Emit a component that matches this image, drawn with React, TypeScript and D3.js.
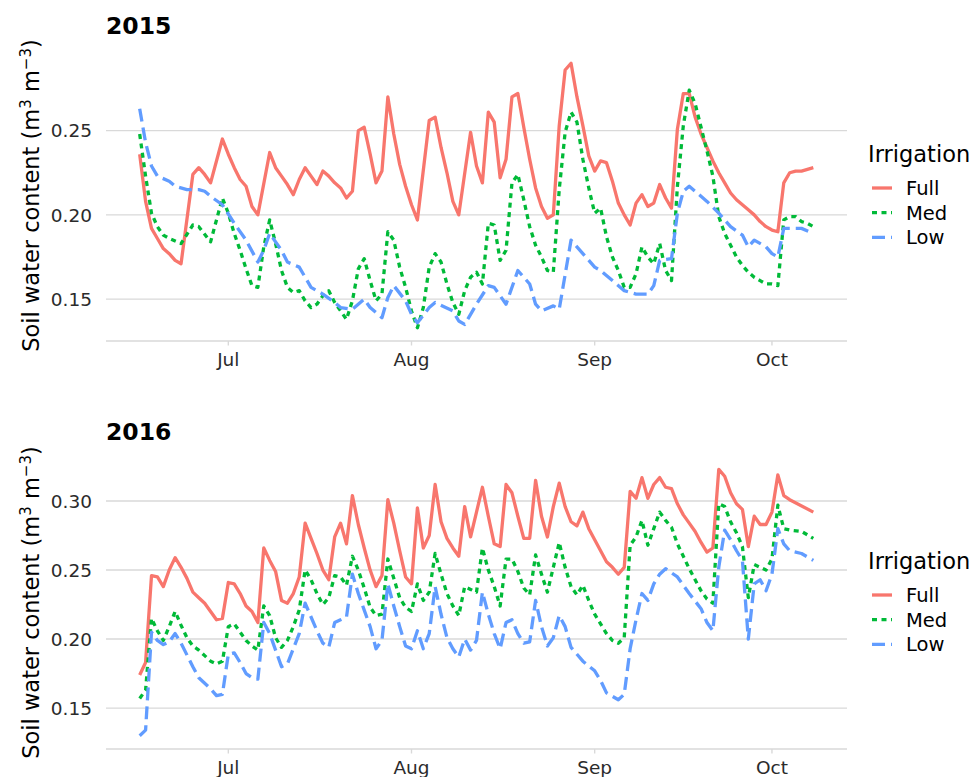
import * as d3 from 'd3';
import React, { Component } from 'react';

// [days after 16 June, soil water content]
type Point = [number, number];

const treatments = ['Full', 'Med', 'Low'];
const colours = ['#f8766d', '#00ba38', '#619cff'];
const dashes = [undefined, '5 4.5', '13 6'];

const full2015: Point[] = [
    [0, .236], [1, .208], [2, .192], [3, .186], [4, .180], [5, .177], [6, .173], [7, .171], [9, .224], [10, .228],
    [11, .224], [12, .219], [14, .245], [15, .236], [16, .228], [17, .221], [18, .217], [19, .205], [20, .200],
    [22, .237], [23, .228], [24, .223], [25, .218], [26, .212], [27, .221], [28, .228], [29, .223], [30, .218],
    [31, .226], [32, .223], [33, .219], [34, .216], [35, .210], [36, .214], [37, .250], [38, .252], [39, .236],
    [40, .219], [41, .226], [42, .270], [43, .248], [44, .230], [45, .217], [46, .206], [47, .197], [49, .256],
    [50, .258], [51, .240], [52, .225], [53, .208], [54, .200], [56, .249], [57, .229], [58, .219], [59, .261],
    [60, .255], [61, .222], [62, .233], [63, .270], [64, .272], [65, .252], [66, .233], [67, .216], [68, .205],
    [69, .198], [70, .200], [71, .253], [72, .286], [73, .290], [74, .270], [75, .253], [76, .235], [77, .226],
    [78, .232], [79, .231], [80, .220], [81, .207], [82, .200], [83, .194], [84, .207], [85, .212], [86, .205],
    [87, .207], [88, .218], [89, .210], [90, .204], [91, .251], [92, .272], [93, .272], [94, .258], [95, .248],
    [96, .240], [97, .232], [98, .225], [99, .219], [100, .213], [101, .209], [102, .206], [103, .203], [104, .200],
    [105, .196], [106, .193], [107, .191], [108, .190], [109, .219], [110, .225], [111, .226], [112, .226],
    [113, .227], [114, .228],
];
const med2015: Point[] = [
    [0, .248], [1, .223], [2, .201], [3, .193], [4, .188], [5, .186], [7, .183], [9, .194], [10, .193], [12, .184],
    [14, .210], [15, .201], [16, .189], [17, .179], [18, .168], [19, .158], [20, .157], [21, .181], [22, .197],
    [23, .183], [24, .167], [25, .157], [26, .154], [27, .155], [28, .149], [29, .145], [30, .147], [31, .152],
    [32, .155], [33, .148], [34, .143], [35, .138], [36, .149], [37, .168], [38, .174], [39, .161], [40, .149],
    [41, .153], [42, .190], [43, .185], [44, .169], [45, .157], [46, .143], [47, .133], [48, .145], [49, .169],
    [50, .177], [51, .172], [52, .159], [53, .148], [54, .141], [55, .155], [56, .163], [57, .166], [58, .159],
    [59, .195], [60, .194], [61, .173], [62, .179], [63, .219], [64, .224], [65, .209], [66, .193], [67, .182],
    [68, .175], [69, .167], [70, .166], [71, .215], [72, .249], [73, .261], [74, .255], [75, .233], [76, .216],
    [77, .201], [78, .204], [79, .187], [80, .175], [81, .167], [82, .157], [83, .157], [84, .165], [85, .181],
    [86, .175], [87, .171], [88, .183], [89, .167], [90, .161], [91, .217], [92, .253], [93, .274], [94, .266],
    [95, .252], [96, .238], [97, .223], [98, .199], [99, .189], [100, .182], [101, .175], [102, .170], [103, .166],
    [104, .163], [105, .161], [106, .159], [107, .159], [108, .158], [109, .197], [110, .199], [111, .199],
    [112, .196], [113, .195], [114, .193],
];
const low2015: Point[] = [
    [0, .263], [1, .243], [2, .229], [3, .223], [5, .220], [6, .217], [8, .215], [10, .215], [11, .214], [12, .211],
    [14, .206], [16, .195], [18, .185], [20, .172], [21, .179], [22, .189], [24, .179], [25, .172], [27, .169],
    [28, .163], [29, .157], [31, .153], [33, .148], [34, .145], [36, .144], [38, .150], [39, .145], [41, .139],
    [42, .151], [43, .158], [45, .149], [46, .141], [47, .136], [49, .145], [50, .148], [53, .143], [54, .137],
    [55, .135], [56, .141], [57, .147], [59, .158], [60, .157], [62, .147], [64, .167], [66, .159], [67, .147],
    [68, .143], [70, .146], [71, .144], [73, .185], [75, .177], [77, .169], [78, .167], [80, .161], [82, .155],
    [84, .153], [86, .153], [87, .158], [88, .173], [90, .174], [91, .201], [92, .214], [93, .217], [94, .214],
    [96, .208], [98, .201], [100, .193], [102, .188], [103, .181], [104, .185], [106, .181], [107, .177],
    [108, .175], [109, .192], [110, .192], [112, .192], [114, .189],
];

const full2016: Point[] = [
    [0, .174], [1, .183], [2, .246], [3, .245], [4, .238], [5, .250], [6, .259], [7, .252], [8, .244], [9, .234],
    [10, .230], [11, .226], [12, .220], [13, .214], [14, .215], [15, .241], [16, .240], [17, .233], [18, .224],
    [19, .220], [20, .212], [21, .266], [22, .257], [23, .249], [24, .228], [25, .226], [26, .233], [27, .245],
    [28, .284], [29, .273], [30, .262], [31, .250], [32, .243], [33, .274], [34, .284], [35, .269], [36, .304],
    [37, .283], [38, .266], [39, .250], [40, .238], [41, .246], [42, .301], [43, .284], [44, .264], [45, .245],
    [46, .240], [47, .295], [48, .266], [49, .275], [50, .312], [51, .285], [52, .273], [53, .266], [54, .260],
    [55, .296], [56, .274], [57, .292], [58, .310], [59, .289], [60, .269], [61, .267], [62, .312], [63, .306],
    [64, .289], [65, .273], [66, .273], [67, .315], [68, .289], [69, .274], [70, .296], [71, .313], [72, .296],
    [73, .285], [74, .282], [75, .292], [76, .280], [77, .272], [78, .264], [79, .256], [80, .252], [81, .247],
    [82, .252], [83, .307], [84, .302], [85, .317], [86, .302], [87, .312], [88, .317], [89, .310], [90, .309],
    [91, .298], [92, .290], [93, .284], [94, .278], [95, .270], [96, .263], [97, .266], [98, .323], [99, .318],
    [100, .306], [101, .298], [102, .294], [103, .267], [104, .289], [105, .283], [106, .283], [107, .292],
    [108, .319], [109, .304], [110, .301], [114, .292],
];
const med2016: Point[] = [
    [0, .157], [1, .163], [2, .215], [3, .206], [4, .199], [5, .209], [6, .220], [7, .210], [8, .201], [9, .195],
    [10, .192], [11, .188], [12, .184], [13, .182], [14, .184], [15, .209], [16, .211], [17, .205], [18, .199],
    [19, .195], [20, .192], [21, .224], [22, .217], [23, .201], [24, .194], [25, .199], [26, .209], [27, .221],
    [28, .250], [29, .243], [30, .233], [31, .225], [32, .230], [33, .246], [34, .245], [35, .239], [36, .260],
    [37, .250], [38, .237], [39, .223], [40, .217], [41, .218], [42, .258], [43, .244], [44, .230], [45, .223],
    [46, .220], [47, .240], [48, .228], [49, .234], [50, .262], [51, .247], [52, .233], [53, .224], [54, .217],
    [55, .238], [56, .236], [57, .234], [58, .266], [59, .250], [60, .238], [61, .224], [62, .258], [63, .258],
    [64, .249], [65, .237], [66, .232], [67, .261], [68, .247], [69, .234], [70, .252], [71, .270], [72, .252],
    [73, .238], [74, .232], [75, .239], [76, .228], [77, .218], [78, .211], [79, .204], [80, .199], [81, .197],
    [82, .201], [83, .268], [84, .274], [85, .286], [86, .268], [87, .280], [88, .292], [89, .286], [90, .281],
    [91, .269], [92, .260], [93, .251], [94, .243], [95, .235], [96, .229], [97, .226], [98, .298], [99, .296],
    [100, .285], [101, .277], [102, .267], [103, .230], [104, .254], [105, .252], [106, .250], [107, .258],
    [108, .297], [109, .280], [110, .279], [112, .278], [114, .273],
];
const low2016: Point[] = [
    [0, .130], [1, .134], [2, .205], [3, .199], [4, .196], [5, .198], [6, .204], [7, .197], [9, .180], [10, .172],
    [12, .164], [13, .159], [14, .160], [15, .189], [16, .190], [17, .183], [18, .175], [19, .172], [20, .171],
    [21, .212], [22, .204], [23, .192], [24, .180], [25, .182], [26, .193], [27, .204], [28, .226], [29, .216],
    [30, .206], [31, .197], [32, .194], [33, .212], [34, .214], [35, .216], [36, .247], [37, .233], [38, .221],
    [39, .209], [40, .193], [41, .199], [42, .240], [43, .224], [44, .209], [45, .195], [46, .193], [47, .206],
    [48, .193], [49, .204], [50, .238], [51, .218], [52, .201], [53, .193], [54, .187], [55, .200], [56, .192],
    [57, .199], [58, .234], [59, .218], [60, .204], [61, .193], [62, .212], [63, .214], [64, .204], [65, .197],
    [66, .198], [67, .228], [68, .209], [69, .195], [70, .201], [71, .217], [72, .209], [73, .194], [75, .184],
    [77, .177], [78, .170], [79, .161], [81, .156], [82, .160], [83, .193], [84, .214], [85, .233], [86, .228],
    [87, .240], [88, .247], [89, .251], [91, .245], [92, .239], [93, .233], [95, .222], [96, .212], [97, .206],
    [98, .252], [99, .279], [100, .272], [101, .264], [102, .257], [103, .200], [104, .240], [105, .243],
    [106, .235], [107, .247], [108, .280], [109, .269], [110, .264], [112, .262], [114, .257],
];

const font = 'DejaVu Sans';
const gridColour = '#d9d9d9';

interface IPanelProps {
    year: number;
    series: Point[][];
    top: number;
    bottom: number;
}

class Panel extends Component<IPanelProps> {
    public render() {
        const { year, series, top, bottom } = this.props;
        const left = 106;
        const right = 847;
        const base = Date.UTC(year, 5, 16);
        const day = (d: number) => new Date(base + d * 864e5);

        const all = series.flat();
        const [d0, d1] = d3.extent(all, (p) => p[0]) as [number, number];
        const [v0, v1] = d3.extent(all, (p) => p[1]) as [number, number];
        const dPad = (d1 - d0) * 0.05;
        const vPad = (v1 - v0) * 0.05;

        const xScale = d3.scaleUtc().domain([day(d0 - dPad), day(d1 + dPad)]).range([left, right]);
        const yScale = d3.scaleLinear().domain([v0 - vPad, v1 + vPad]).range([bottom, top]);
        const line = d3.line<Point>().x((p) => xScale(day(p[0]))).y((p) => yScale(p[1]));
        const months = xScale.ticks(d3.utcMonth.every(1) as any);
        const monthFormat = d3.utcFormat('%b');
        const mid = (top + bottom) / 2;

        return (
            <g>
                <text x={106} y={top - 16} fontSize={23.5} fontWeight="bold" fill="#000">{year}</text>
                {yScale.ticks(4).map((t) => (
                    <g key={t}>
                        <line x1={left} x2={right} y1={yScale(t)} y2={yScale(t)} stroke={gridColour} strokeWidth={1.4} />
                        <text x={92} y={yScale(t)} dy="0.36em" textAnchor="end" fontSize={18.5} fill="#2b2b2b">
                            {d3.format('.2f')(t)}
                        </text>
                    </g>
                ))}
                <line x1={left} x2={right} y1={bottom} y2={bottom} stroke={gridColour} strokeWidth={1.4} />
                {months.map((m) => (
                    <g key={m.getTime()}>
                        <line x1={xScale(m)} x2={xScale(m)} y1={bottom} y2={bottom + 4.5} stroke={gridColour} strokeWidth={1.4} />
                        <text x={xScale(m)} y={bottom + 25} textAnchor="middle" fontSize={18.5} fill="#2b2b2b">
                            {monthFormat(m)}
                        </text>
                    </g>
                ))}
                <text transform={`translate(39,${mid}) rotate(-90)`} textAnchor="middle" fontSize={22.5} fill="#000">
                    Soil water content (m<tspan dy={-8} fontSize={15}>3</tspan>
                    <tspan dy={8}> m</tspan><tspan dy={-8} fontSize={15}>−3</tspan><tspan dy={8}>)</tspan>
                </text>
                {series.map((s, i) => (
                    <path
                        key={treatments[i]}
                        d={line(s) || ''}
                        fill="none"
                        stroke={colours[i]}
                        strokeWidth={3.3}
                        strokeDasharray={dashes[i]}
                        strokeLinejoin="round"
                    />
                ))}
                <g transform={`translate(0,${mid})`}>
                    <text x={868} y={-34} fontSize={22.5} fill="#000">Irrigation</text>
                    {treatments.map((t, i) => (
                        <g key={t} transform={`translate(0,${-7.5 + i * 24.7})`}>
                            <line x1={872} x2={892} y1={0} y2={0} stroke={colours[i]} strokeWidth={3.3} strokeDasharray={dashes[i]} />
                            <text x={906} y={7} fontSize={19.5} fill="#000">{t}</text>
                        </g>
                    ))}
                </g>
            </g>
        );
    }
}

export default function App() {
    return (
        <svg
            width={976}
            height={777}
            style={{ position: 'absolute', left: 0, top: 0, background: '#fff' }}
            fontFamily={font}
        >
            <Panel year={2015} series={[full2015, med2015, low2015]} top={50} bottom={341} />
            <Panel year={2016} series={[full2016, med2016, low2016]} top={456} bottom={749} />
        </svg>
    );
}
